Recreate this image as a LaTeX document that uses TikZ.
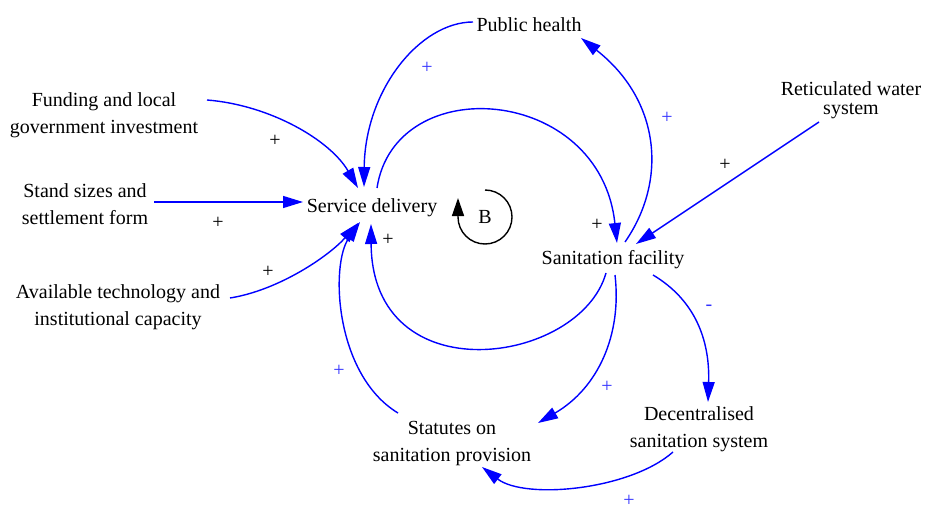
\documentclass[tikz,border=0pt]{standalone}
\usepackage{fontspec}
\setmainfont{Liberation Serif}
\usetikzlibrary{arrows.meta}
\definecolor{linkblue}{RGB}{0,0,255}
\definecolor{signblue}{RGB}{50,50,255}
\begin{document}
\begin{tikzpicture}[x=0.5pt,y=-0.5pt,
  var/.style={inner sep=0pt, align=center, font=\fontsize{10}{13.5}\selectfont},
  link/.style={color=linkblue, line width=0.7pt, -{Triangle[length=10pt,width=6pt]}},
  psign/.style={font=\fontsize{10}{12}\selectfont, inner sep=0pt},
  bsign/.style={psign, text=signblue},
  loopline/.style={line width=0.7pt, -{Triangle[length=9pt,width=6pt]}}]
\useasboundingbox (0,0) rectangle (926,508);

% variables
\node[var] (PH) at (529,25) {Public health};
\node[var] (FU) at (104,115) {Funding and local\\government investment};
\node[var] (SS) at (85,204) {Stand sizes and\\settlement form};
\node[var] (AT) at (118,307) {Available technology and\\institutional capacity};
\node[var] (SD) at (372,208) {Service delivery};
\node[var] (SF) at (613,260) {Sanitation facility};
\node[var, font=\fontsize{10}{9.5}\selectfont] (RW) at (851,100) {Reticulated water\\system};
\node[var] (DS) at (699,429) {Decentralised\\sanitation system};
\node[var] (ST) at (452,444) {Statutes on\\sanitation provision};

% links
\draw[link] ([shift={(103,-15)}]FU.center) .. controls (270,105) and (330,140) .. ([shift={(-14,-20)}]SD.center);
\draw[link] ([shift={(69,-2)}]SS.center) -- ([shift={(-69,-6)}]SD.center);
\draw[link] ([shift={(112,-9)}]AT.center) .. controls (280,290) and (330,255) .. ([shift={(-14,15)}]SD.center);
\draw[link] ([shift={(5,-20)}]SD.center) .. controls (395,70) and (600,85) .. ([shift={(4,-17)}]SF.center);
\draw[link] ([shift={(12,-18)}]SF.center) .. controls (668,180) and (660,100) .. ([shift={(52,13)}]PH.center);
\draw[link] ([shift={(-56,-3)}]PH.center) .. controls (420,22) and (365,90) .. ([shift={(-8,-21)}]SD.center);
\draw[link] ([shift={(-32,22)}]RW.center) -- ([shift={(23,-16)}]SF.center);
\draw[link] ([shift={(40,15)}]SF.center) .. controls (695,300) and (710,340) .. ([shift={(9,-27)}]DS.center);
\draw[link] ([shift={(2,15)}]SF.center) .. controls (622,335) and (598,388) .. ([shift={(86,-21)}]ST.center);
\draw[link] ([shift={(-26,23)}]DS.center) .. controls (630,490) and (525,500) .. ([shift={(30,23)}]ST.center);
\draw[link] ([shift={(-54,-31)}]ST.center) .. controls (335,375) and (330,265) .. ([shift={(-12,14)}]SD.center);
\draw[link] ([shift={(-7,13)}]SF.center) .. controls (580,365) and (372,395) .. ([shift={(-1,16)}]SD.center);

% loop marker
\node[var] (B) at (485,217) {B};
\draw[loopline] ([shift={(0,-27)}]B.center) arc[start angle=-90, end angle=180, radius=27] -- ++(0,-19);

% polarity signs
\node[psign] (s1) at (275,141) {+};
\node[psign] (s2) at (218,223) {+};
\node[psign] (s3) at (268,272) {+};
\node[psign] (s4) at (388,240) {+};
\node[psign] (s5) at (597,225) {+};
\node[psign] (s6) at (725,165) {+};
\node[bsign] (s7) at (427,68) {+};
\node[bsign] (s8) at (667,118) {+};
\node[bsign] (s9) at (339,371) {+};
\node[bsign] (s10) at (607,387) {+};
\node[bsign] (s11) at (629,501) {+};
\node[bsign] (s12) at (709,308) {-};
\end{tikzpicture}
\end{document}
